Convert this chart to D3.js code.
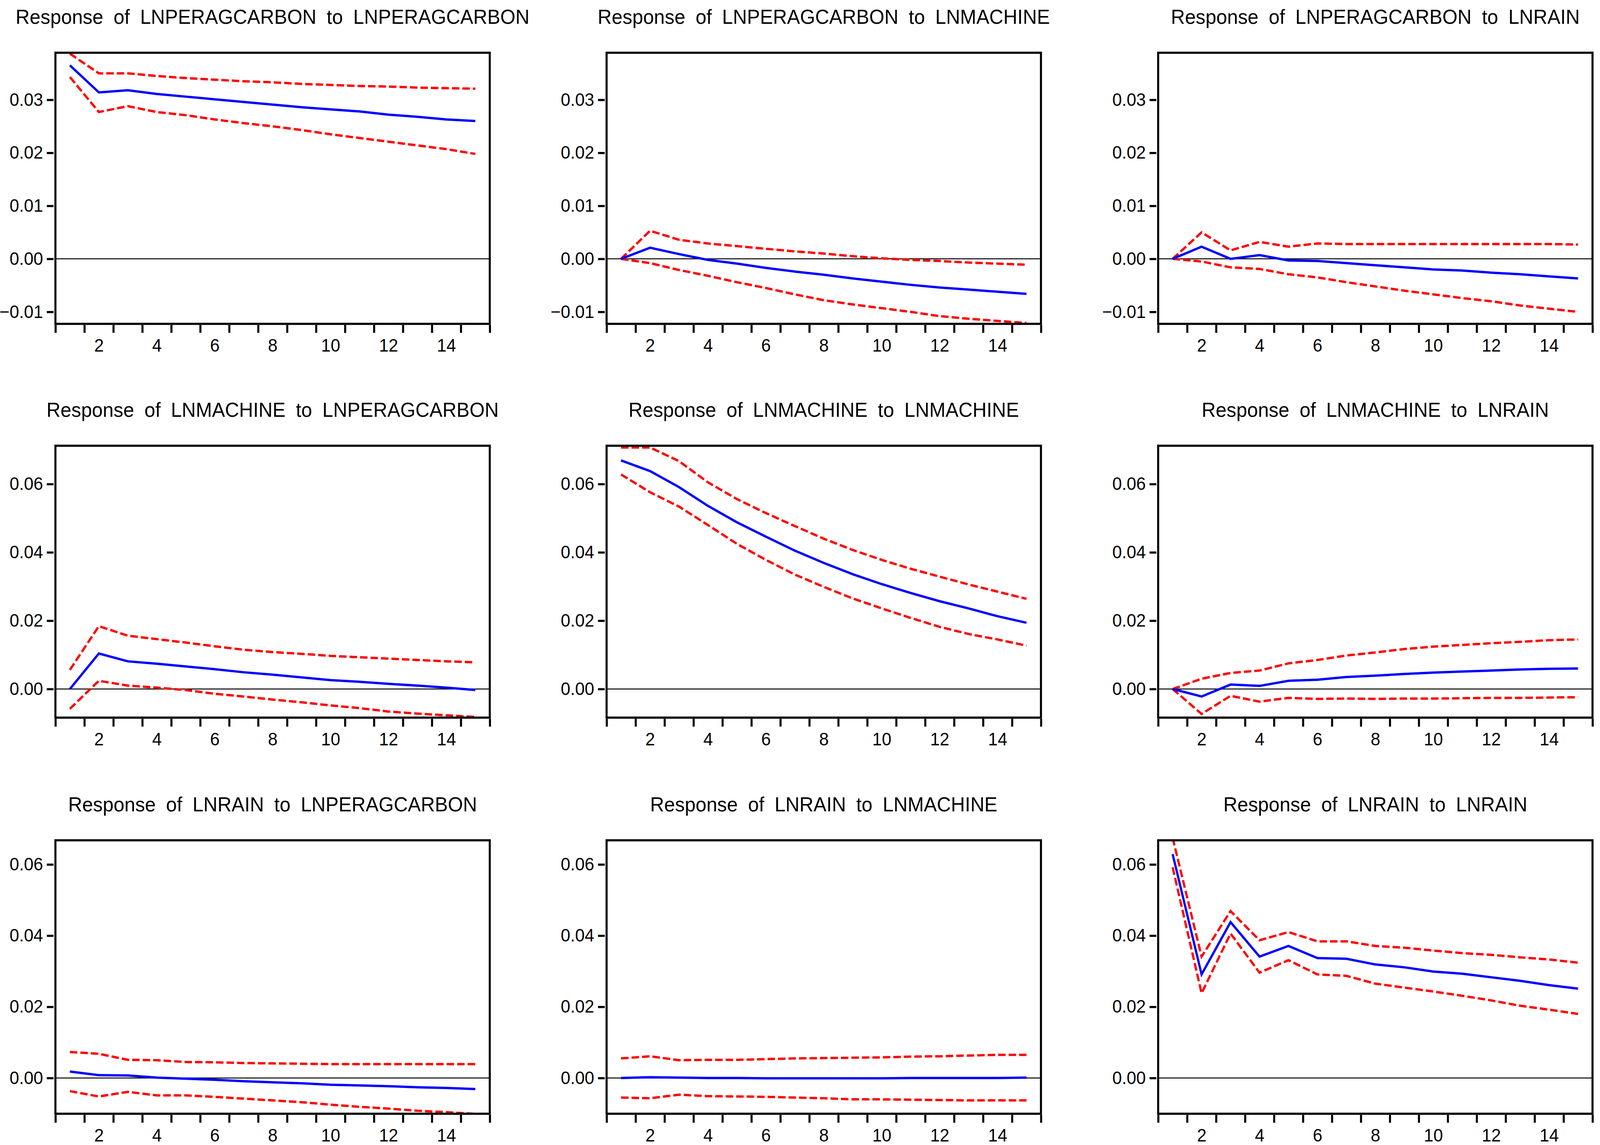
<!DOCTYPE html>
<html>
<head>
<meta charset="utf-8">
<script src="https://cdn.jsdelivr.net/npm/d3@7"></script>
<style>
  html, body { margin: 0; padding: 0; background: #fff; overflow: hidden; width: 100%; height: 100%; }
  svg { display: block; width: 100vw; height: 100vh; }
  text { font-family: "Liberation Sans", Arial, sans-serif; fill: #000; }
</style>
</head>
<body>
<svg id="chart" viewBox="0 0 4273 2931" preserveAspectRatio="none"></svg>
<script>
// ---------------- DATA ----------------
const periods = [1,2,3,4,5,6,7,8,9,10,11,12,13,14,15];
const xTickLabels = [2,4,6,8,10,12,14];
const variables = ["LNPERAGCARBON", "LNMACHINE", "LNRAIN"];
const yTicksRow1 = [-0.01, 0.00, 0.01, 0.02, 0.03];
const yTicksRow2 = [0.00, 0.02, 0.04, 0.06];
const yTicksRow3 = [0.00, 0.02, 0.04, 0.06];
const yDomainRow1 = [-0.01226, 0.03888];
const yDomainRow2 = [-0.00838, 0.07121];
const yDomainRow3 = [-0.01005, 0.06679];

// Response of LNPERAGCARBON to LNPERAGCARBON
const resp_C_C  = [0.0365,0.0314,0.0318,0.0311,0.0306,0.0301,0.0296,0.0291,0.0286,0.0282,0.0278,0.0272,0.0268,0.0263,0.0260];
const upper_C_C = [0.0387,0.0350,0.0350,0.0345,0.0341,0.0338,0.0335,0.0333,0.0330,0.0328,0.0326,0.0325,0.0323,0.0322,0.0321];
const lower_C_C = [0.0343,0.0277,0.0288,0.0277,0.0271,0.0263,0.0256,0.0250,0.0243,0.0235,0.0228,0.0221,0.0214,0.0207,0.0198];
// Response of LNPERAGCARBON to LNMACHINE
const resp_C_M  = [0.0000,0.0021,0.0009,-0.0002,-0.0009,-0.0017,-0.0024,-0.0030,-0.0037,-0.0043,-0.0049,-0.0054,-0.0058,-0.0062,-0.0066];
const upper_C_M = [0.0000,0.0053,0.0036,0.0029,0.0024,0.0019,0.0014,0.0010,0.0005,0.0001,-0.0002,-0.0004,-0.0007,-0.0009,-0.0011];
const lower_C_M = [0.0000,-0.0008,-0.0021,-0.0032,-0.0044,-0.0055,-0.0067,-0.0078,-0.0086,-0.0093,-0.0100,-0.0108,-0.0113,-0.0117,-0.0121];
// Response of LNPERAGCARBON to LNRAIN
const resp_C_R  = [0.0000,0.0023,0.0000,0.0007,-0.0003,-0.0004,-0.0008,-0.0012,-0.0016,-0.0020,-0.0022,-0.0026,-0.0029,-0.0033,-0.0037];
const upper_C_R = [0.0000,0.0050,0.0016,0.0032,0.0023,0.0029,0.0028,0.0028,0.0028,0.0028,0.0028,0.0028,0.0028,0.0028,0.0027];
const lower_C_R = [0.0000,-0.0005,-0.0016,-0.0019,-0.0029,-0.0035,-0.0044,-0.0052,-0.0060,-0.0067,-0.0074,-0.0080,-0.0088,-0.0094,-0.0100];
// Response of LNMACHINE to LNPERAGCARBON
const resp_M_C  = [0.0000,0.0104,0.0081,0.0074,0.0066,0.0058,0.0049,0.0042,0.0034,0.0026,0.0021,0.0015,0.0010,0.0004,-0.0003];
const upper_M_C = [0.0056,0.0184,0.0156,0.0146,0.0136,0.0125,0.0115,0.0108,0.0103,0.0097,0.0093,0.0089,0.0085,0.0081,0.0078];
const lower_M_C = [-0.0058,0.0024,0.0010,0.0004,-0.0003,-0.0014,-0.0022,-0.0031,-0.0039,-0.0048,-0.0056,-0.0066,-0.0072,-0.0077,-0.0082];
// Response of LNMACHINE to LNMACHINE
const resp_M_M  = [0.0669,0.0638,0.0591,0.0536,0.0488,0.0446,0.0405,0.0369,0.0336,0.0307,0.0281,0.0257,0.0236,0.0213,0.0194];
const upper_M_M = [0.0707,0.0707,0.0667,0.0605,0.0556,0.0515,0.0477,0.0440,0.0407,0.0378,0.0352,0.0329,0.0306,0.0285,0.0264];
const lower_M_M = [0.0628,0.0576,0.0534,0.0480,0.0425,0.0378,0.0335,0.0299,0.0265,0.0236,0.0208,0.0182,0.0161,0.0145,0.0127];
// Response of LNMACHINE to LNRAIN
const resp_M_R  = [0.0000,-0.0022,0.0013,0.0009,0.0024,0.0027,0.0035,0.0039,0.0044,0.0048,0.0051,0.0054,0.0057,0.0059,0.0060];
const upper_M_R = [0.0000,0.0030,0.0047,0.0054,0.0075,0.0085,0.0098,0.0107,0.0117,0.0124,0.0129,0.0134,0.0138,0.0143,0.0145];
const lower_M_R = [0.0000,-0.0073,-0.0020,-0.0037,-0.0026,-0.0029,-0.0028,-0.0029,-0.0028,-0.0028,-0.0027,-0.0026,-0.0026,-0.0025,-0.0024];
// Response of LNRAIN to LNPERAGCARBON
const resp_R_C  = [0.0018,0.0008,0.0007,0.0001,-0.0002,-0.0005,-0.0009,-0.0012,-0.0015,-0.0019,-0.0021,-0.0023,-0.0026,-0.0028,-0.0031];
const upper_R_C = [0.0073,0.0068,0.0051,0.0050,0.0045,0.0044,0.0042,0.0041,0.0040,0.0039,0.0039,0.0039,0.0039,0.0039,0.0039];
const lower_R_C = [-0.0037,-0.0052,-0.0039,-0.0049,-0.0049,-0.0053,-0.0058,-0.0063,-0.0068,-0.0075,-0.0081,-0.0086,-0.0092,-0.0096,-0.0101];
// Response of LNRAIN to LNMACHINE
const resp_R_M  = [0.0000,0.0002,0.0001,0.0000,0.0000,-0.0001,-0.0001,-0.0001,-0.0001,-0.0001,0.0000,0.0000,0.0000,0.0000,0.0001];
const upper_R_M = [0.0055,0.0061,0.0050,0.0051,0.0051,0.0053,0.0055,0.0056,0.0057,0.0058,0.0060,0.0061,0.0063,0.0065,0.0065];
const lower_R_M = [-0.0055,-0.0057,-0.0047,-0.0051,-0.0052,-0.0053,-0.0055,-0.0057,-0.0060,-0.0060,-0.0061,-0.0062,-0.0063,-0.0063,-0.0063];
// Response of LNRAIN to LNRAIN
const resp_R_R  = [0.0629,0.0291,0.0438,0.0341,0.0371,0.0337,0.0335,0.0319,0.0311,0.0299,0.0293,0.0283,0.0273,0.0261,0.0251];
const upper_R_R = [0.0675,0.0341,0.0469,0.0387,0.0410,0.0384,0.0384,0.0371,0.0366,0.0358,0.0351,0.0346,0.0339,0.0333,0.0324];
const lower_R_R = [0.0592,0.0238,0.0406,0.0296,0.0331,0.0291,0.0287,0.0265,0.0254,0.0243,0.0231,0.0218,0.0203,0.0192,0.0180];

// ---------------- LAYOUT ----------------
const colLeft = [148, 1620, 3093];
const plotW = 1160;
const rowTop = [135, 1141, 2151];
const rowBottom = [829, 1837, 2851];

const panels = [
  {r:0,c:0,resp:resp_C_C,up:upper_C_C,lo:lower_C_C},
  {r:0,c:1,resp:resp_C_M,up:upper_C_M,lo:lower_C_M},
  {r:0,c:2,resp:resp_C_R,up:upper_C_R,lo:lower_C_R},
  {r:1,c:0,resp:resp_M_C,up:upper_M_C,lo:lower_M_C},
  {r:1,c:1,resp:resp_M_M,up:upper_M_M,lo:lower_M_M},
  {r:1,c:2,resp:resp_M_R,up:upper_M_R,lo:lower_M_R},
  {r:2,c:0,resp:resp_R_C,up:upper_R_C,lo:lower_R_C},
  {r:2,c:1,resp:resp_R_M,up:upper_R_M,lo:lower_R_M},
  {r:2,c:2,resp:resp_R_R,up:upper_R_R,lo:lower_R_R},
];
const yDomains = [yDomainRow1, yDomainRow2, yDomainRow3];
const yTicks = [yTicksRow1, yTicksRow2, yTicksRow3];

const svg = d3.select("#chart");
const fmt = d3.format(".2f");
const bounds = d3.range(0.5, 15.51, 1);

panels.forEach((p, i) => {
  const left = colLeft[p.c], right = left + plotW;
  const top = rowTop[p.r], bottom = rowBottom[p.r];
  const x = d3.scaleLinear().domain([0.5, 15.5]).range([left, right]);
  const y = d3.scaleLinear().domain(yDomains[p.r]).range([bottom, top]);
  const g = svg.append("g");

  // title
  g.append("text")
    .attr("x", (left + right) / 2)
    .attr("y", top - 74)
    .attr("text-anchor", "middle")
    .attr("font-size", 52)
    .attr("word-spacing", 13)
    .text(`Response of ${variables[p.r]} to ${variables[p.c]}`);

  // clip
  const clipId = "clip" + i;
  svg.append("clipPath").attr("id", clipId)
    .append("rect").attr("x", left).attr("y", top).attr("width", right - left).attr("height", bottom - top);

  const plot = g.append("g").attr("clip-path", `url(#${clipId})`);

  // zero line
  plot.append("line")
    .attr("x1", left).attr("x2", right)
    .attr("y1", y(0)).attr("y2", y(0))
    .attr("stroke", "#000").attr("stroke-width", 2.5);

  const line = d3.line().x((d, k) => x(periods[k])).y(d => y(d));

  [p.up, p.lo].forEach(arr => {
    plot.append("path").datum(arr).attr("d", line)
      .attr("fill", "none").attr("stroke", "#ff0000").attr("stroke-width", 6)
      .attr("stroke-dasharray", "20,8");
  });
  plot.append("path").datum(p.resp).attr("d", line)
    .attr("fill", "none").attr("stroke", "#0000ff").attr("stroke-width", 6);

  // box
  g.append("rect")
    .attr("x", left).attr("y", top).attr("width", right - left).attr("height", bottom - top)
    .attr("fill", "none").attr("stroke", "#000").attr("stroke-width", 5.5);

  // y axis
  const yAxis = g.append("g").attr("transform", `translate(${left - 5},0)`)
    .call(d3.axisLeft(y).tickValues(yTicks[p.r]).tickSize(18).tickPadding(10).tickFormat(fmt));
  yAxis.select(".domain").remove();
  yAxis.selectAll(".tick line").attr("stroke", "#000").attr("stroke-width", 5.5);
  yAxis.selectAll(".tick text").attr("font-size", 46).attr("font-family", "Liberation Sans, Arial, sans-serif");

  // x axis tick marks (period boundaries)
  const xTicks = g.append("g").attr("transform", `translate(0,${bottom + 3})`)
    .call(d3.axisBottom(x).tickValues(bounds).tickSize(20).tickFormat(""));
  xTicks.select(".domain").remove();
  xTicks.selectAll(".tick line").attr("stroke", "#000").attr("stroke-width", 5.5);

  // x axis labels
  const xLab = g.append("g").attr("transform", `translate(0,${bottom + 38})`)
    .call(d3.axisBottom(x).tickValues(xTickLabels).tickSize(0).tickPadding(0).tickFormat(d3.format("d")));
  xLab.select(".domain").remove();
  xLab.selectAll(".tick text").attr("font-size", 46).attr("dy", "0.71em").attr("font-family", "Liberation Sans, Arial, sans-serif");
});
</script>
</body>
</html>
